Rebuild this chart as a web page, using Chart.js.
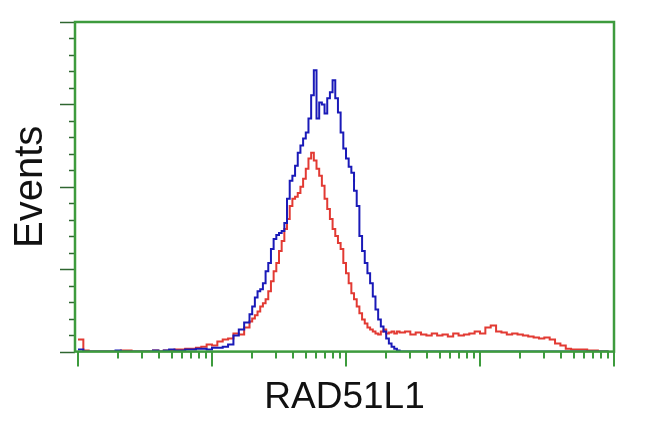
<!DOCTYPE html>
<html>
<head>
<meta charset="utf-8">
<script src="https://cdn.jsdelivr.net/npm/chart.js@4"></script>
<style>
html, body { margin: 0; padding: 0; background: #fff; }
#wrap { width: 650px; height: 432px; }
</style>
</head>
<body>
<div id="wrap"><canvas id="myChart"></canvas></div>
<script>
// histogram channels, as log10 of the RAD51L1 fluorescence
const channels = [
    0, 0.04, 0.08, 0.12, 0.16, 0.2, 0.24, 0.28, 0.32, 0.36, 0.4, 0.44, 0.48, 0.52, 0.56, 0.6,
    0.64, 0.68, 0.72, 0.76, 0.8, 0.84, 0.88, 0.92, 0.96, 1.0, 1.04, 1.08, 1.12, 1.16, 1.2, 1.24,
    1.28, 1.30, 1.32, 1.34, 1.36, 1.38, 1.40, 1.42, 1.44, 1.46, 1.48, 1.50, 1.52, 1.54, 1.56, 1.58,
    1.60, 1.62, 1.64, 1.66, 1.68, 1.70, 1.72, 1.74, 1.76, 1.78, 1.80, 1.82, 1.84, 1.86, 1.88, 1.90,
    1.92, 1.94, 1.96, 1.98, 2.00, 2.02, 2.04, 2.06, 2.08, 2.10, 2.12, 2.14, 2.16, 2.18, 2.20, 2.22,
    2.24, 2.26, 2.28, 2.30, 2.32, 2.34, 2.36, 2.38, 2.40,
    2.44, 2.48, 2.52, 2.56, 2.60, 2.64, 2.68, 2.72, 2.76, 2.80, 2.84, 2.88, 2.92, 2.96, 3.00, 3.04,
    3.08, 3.12, 3.16, 3.20, 3.24, 3.28, 3.32, 3.36, 3.40, 3.44, 3.48, 3.52, 3.56, 3.60, 3.64, 3.68,
    3.72, 3.76, 3.80, 3.84, 3.88, 3.92, 3.96
];

// blue trace (stained)
const blueEvents = [
    1.2, 0, 0, 0, 0, 0, 0, 0.6, 0, 0, 0, 0, 0, 0, 0.6, 0,
    0.6, 1.2, 0.6, 0.6, 1.2, 1.2, 1.8, 1.8, 1.2, 2.4, 2.4, 3.0, 4.3, 9.8, 13.4, 17.7,
    22.6, 27.4, 32.9, 36.6, 37.8, 41.5, 48.8, 53.7, 62.2, 68.3, 70.7, 72.0, 73.2, 78.0, 92.7, 103.7,
    106.7, 112.8, 120.7, 125.0, 129.3, 132.9, 141.5, 155.5, 170.7, 141.5, 151.2, 150.0, 144.5, 153.7, 157.3, 164.6,
    153.7, 145.1, 132.9, 123.2, 117.1, 112.2, 108.5, 97.6, 88.4, 70.1, 61.0, 53.7, 47.6, 41.5, 33.5, 25.6,
    19.5, 15.2, 12.2, 7.9, 4.9, 3.0, 1.8, 0.6, 0,
    0, 0, 0, 0, 0, 0, 0, 0, 0, 0, 0, 0, 0, 0, 0, 0,
    0, 0, 0, 0, 0, 0, 0, 0, 0, 0, 0, 0, 0, 0, 0, 0,
    0, 0, 0, 0, 0, 0, 0
];

// red trace (control)
const redEvents = [
    7.3, 0.6, 0, 0, 0, 0, 0, 0, 0.6, 0.6, 0, 0, 0, 0, 0.6, 0,
    0.6, 0.6, 1.2, 1.2, 1.8, 1.8, 2.4, 3.0, 4.3, 3.7, 6.1, 7.3, 7.9, 11.0, 10.4, 14.6,
    18.3, 20.1, 22.0, 24.4, 27.4, 29.3, 31.7, 36.6, 42.7, 48.8, 53.7, 61.0, 67.1, 74.4, 80.5, 88.4,
    92.7, 93.9, 96.3, 100.0, 104.9, 111.0, 117.1, 120.7, 115.9, 111.0, 106.7, 100.6, 92.7, 86.6, 80.5, 74.4,
    70.1, 65.9, 62.2, 53.7, 47.6, 41.5, 35.4, 31.7, 27.4, 23.2, 19.5, 17.1, 14.6, 13.4, 12.2, 11.0,
    10.4, 12.2, 13.4, 11.0, 11.6, 12.2, 11.0, 12.2, 11.6,
    12.2, 10.4, 11.6, 10.4, 9.8, 11.0, 9.8, 10.4, 9.1, 11.0, 9.8, 10.4, 11.0, 12.2, 11.0, 14.6,
    15.9, 12.2, 11.6, 10.4, 11.0, 10.4, 9.8, 9.1, 8.5, 7.9, 8.5, 7.3, 4.9, 3.7, 1.8, 1.2,
    1.2, 1.2, 0.6, 0.6, 0, 0, 0
];

const decades = [1, 10, 100, 1000];
const xTitle = 'RAD51L1';
const yTitle = 'Events';

const frameColor = '#3d9b3d';
const tickColor = '#2e6630';
const fontFamily = '"Liberation Sans", Arial, sans-serif';

function toPoints(values) {
    return channels.map((c, i) => ({x: Math.pow(10, c), y: values[i]}));
}

// x ticks: decades are major, 2..9 in between are minor
const xTicks = [];
decades.forEach(d => {
    for (let k = 1; k < 10; k++) xTicks.push({value: d * k, major: k === 1});
});
xTicks.push({value: 10000, major: true});

// frame and outside tick marks (long for major, short for minor)
const axisDecor = {
    id: 'axisDecor',
    afterDatasetsDraw(chart) {
        const {ctx, chartArea: a, scales: {x, y}} = chart;
        ctx.save();
        ctx.lineWidth = 1.5;
        ctx.strokeStyle = tickColor;
        y.ticks.forEach(t => {
            const py = Math.round(y.getPixelForValue(t.value)) + 0.5;
            const len = t.value % 50 === 0 ? 15 : 6;
            ctx.beginPath();
            ctx.moveTo(a.left - len, py);
            ctx.lineTo(a.left, py);
            ctx.stroke();
        });
        ctx.strokeStyle = frameColor;
        ctx.lineWidth = 2;
        x.ticks.forEach(t => {
            const px = Math.round(x.getPixelForValue(t.value));
            const len = t.major ? 15 : 7;
            ctx.beginPath();
            ctx.moveTo(px, a.bottom);
            ctx.lineTo(px, a.bottom + len);
            ctx.stroke();
        });
        ctx.lineWidth = 2.5;
        ctx.strokeRect(a.left, a.top, a.right - a.left, a.bottom - a.top);
        ctx.restore();
    }
};

const chart = new Chart(document.getElementById('myChart'), {
    type: 'line',
    data: {
        datasets: [{
            label: 'RAD51L1',
            data: toPoints(blueEvents),
            borderColor: '#1a1ab8',
            borderWidth: 2,
            stepped: true,
            pointRadius: 0,
            fill: false
        }, {
            label: 'control',
            data: toPoints(redEvents),
            borderColor: '#e23a33',
            borderWidth: 2,
            stepped: true,
            pointRadius: 0,
            fill: false
        }]
    },
    options: {
        responsive: true,
        maintainAspectRatio: false,
        animation: false,
        layout: {padding: {top: 22, right: 36, left: 0, bottom: 0}},
        plugins: {legend: {display: false}, tooltip: {enabled: false}},
        scales: {
            x: {
                type: 'logarithmic',
                min: 0.95,
                max: 10000,
                afterBuildTicks: scale => { scale.ticks = xTicks.slice(); },
                ticks: {display: false},
                grid: {display: false, drawTicks: false},
                border: {display: false},
                title: {
                    display: true,
                    text: xTitle,
                    color: '#111',
                    font: {family: fontFamily, size: 37},
                    padding: {top: 24, bottom: 12}
                }
            },
            y: {
                min: 0,
                max: 200,
                ticks: {display: false, stepSize: 10},
                grid: {display: false, drawTicks: false},
                border: {display: false},
                title: {
                    display: true,
                    text: yTitle,
                    color: '#111',
                    font: {family: fontFamily, size: 40},
                    padding: {top: 7, bottom: 20}
                }
            }
        }
    },
    plugins: [axisDecor]
});
</script>
</body>
</html>
